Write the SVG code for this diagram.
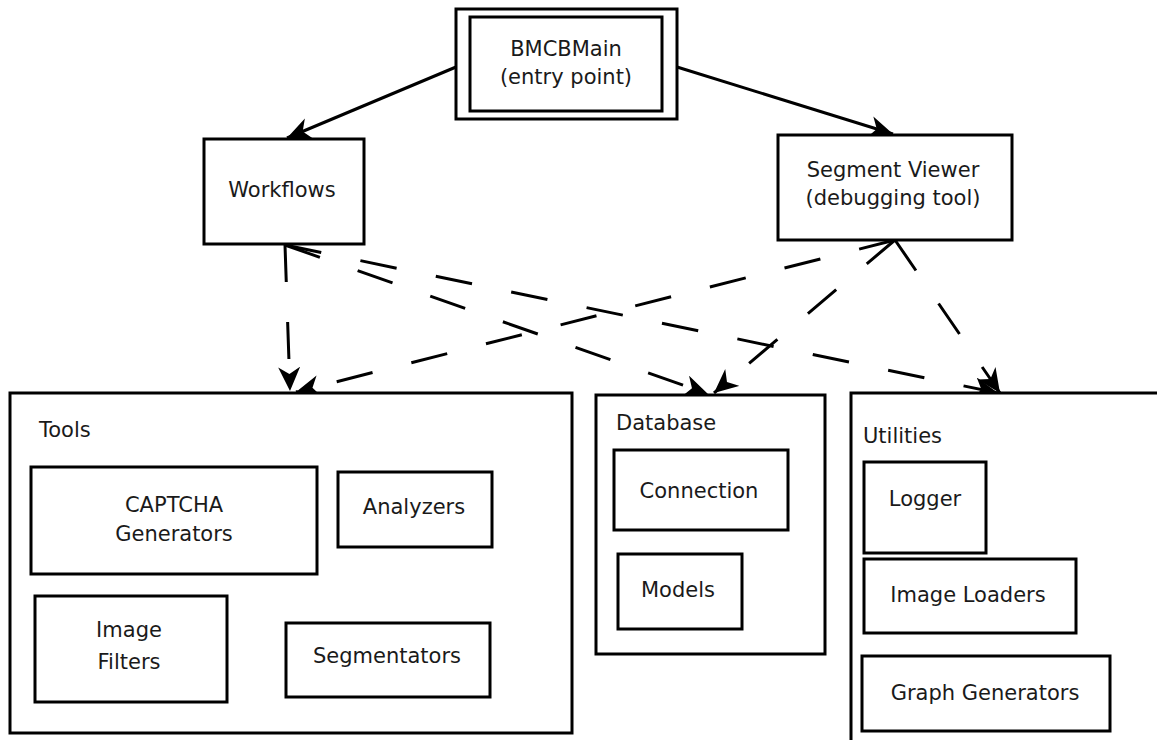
<svg xmlns="http://www.w3.org/2000/svg" width="1157" height="740" viewBox="0 0 1157 740">
<style>
.box{fill:#fff;stroke:#000;stroke-width:3}
.t{font-family:"DejaVu Sans",sans-serif;font-size:21px;fill:#1a1a1a}
.c{text-anchor:middle}
.solid{fill:none;stroke:#000;stroke-width:3}
.dash{fill:none;stroke:#000;stroke-width:3;stroke-dasharray:37 40}
</style>
<defs>
<marker id="ah" markerUnits="userSpaceOnUse" markerWidth="26" markerHeight="24" refX="24" refY="11" orient="auto">
<path d="M24,11 L0,0 L7,11 L0,22 Z" fill="#000"/>
</marker>
</defs>
<rect width="1157" height="740" fill="#fff"/>
<g id="connectors">
<path class="solid" d="M456,67 L287,138" marker-end="url(#ah)"/>
<path class="solid" d="M677,67 L893,134" marker-end="url(#ah)"/>
<path class="dash" d="M285,245 L290,391" marker-end="url(#ah)"/>
<path class="dash" d="M285,245 L708,394" marker-end="url(#ah)"/>
<path class="dash" d="M285,245 L998,393" marker-end="url(#ah)"/>
<path class="dash" d="M895,240 L296,392" marker-end="url(#ah)"/>
<path class="dash" d="M895,240 L714,393" marker-end="url(#ah)"/>
<path class="dash" d="M895,240 L1000,393" marker-end="url(#ah)"/>
</g>
<g id="bmcbmain">
<rect class="box" x="456" y="9" width="221" height="110"/>
<rect class="box" x="470" y="17" width="192" height="94"/>
<text class="t c" x="566" y="56">BMCBMain</text>
<text class="t c" x="566" y="84">(entry point)</text>
</g>
<g id="workflows">
<rect class="box" x="204" y="139" width="160" height="105"/>
<text class="t c" x="282" y="197">Workflows</text>
</g>
<g id="segment-viewer">
<rect class="box" x="778" y="135" width="234" height="105"/>
<text class="t c" x="893" y="177">Segment Viewer</text>
<text class="t c" x="893" y="205">(debugging tool)</text>
</g>
<g id="tools">
<rect class="box" x="10" y="393" width="562" height="340"/>
<text class="t" x="39" y="437">Tools</text>
</g>
<g id="captcha-generators">
<rect class="box" x="31" y="467" width="286" height="107"/>
<text class="t c" x="174" y="512">CAPTCHA</text>
<text class="t c" x="174" y="541">Generators</text>
</g>
<g id="analyzers">
<rect class="box" x="338" y="472" width="154" height="75"/>
<text class="t c" x="414" y="514">Analyzers</text>
</g>
<g id="image-filters">
<rect class="box" x="35" y="596" width="192" height="106"/>
<text class="t c" x="129" y="637">Image</text>
<text class="t c" x="129" y="669">Filters</text>
</g>
<g id="segmentators">
<rect class="box" x="286" y="623" width="204" height="74"/>
<text class="t c" x="387" y="663">Segmentators</text>
</g>
<g id="database">
<rect class="box" x="596" y="395" width="229" height="259"/>
<text class="t" x="616" y="430">Database</text>
</g>
<g id="connection">
<rect class="box" x="614" y="450" width="174" height="80"/>
<text class="t c" x="699" y="498">Connection</text>
</g>
<g id="models">
<rect class="box" x="618" y="554" width="124" height="75"/>
<text class="t c" x="678" y="597">Models</text>
</g>
<g id="utilities">
<rect class="box" x="851" y="393" width="320" height="360"/>
<text class="t" x="863" y="443">Utilities</text>
</g>
<g id="logger">
<rect class="box" x="864" y="462" width="122" height="91"/>
<text class="t c" x="925" y="506">Logger</text>
</g>
<g id="image-loaders">
<rect class="box" x="864" y="559" width="212" height="74"/>
<text class="t c" x="968" y="602">Image Loaders</text>
</g>
<g id="graph-generators">
<rect class="box" x="862" y="656" width="248" height="75"/>
<text class="t c" x="985" y="700">Graph Generators</text>
</g>
</svg>
